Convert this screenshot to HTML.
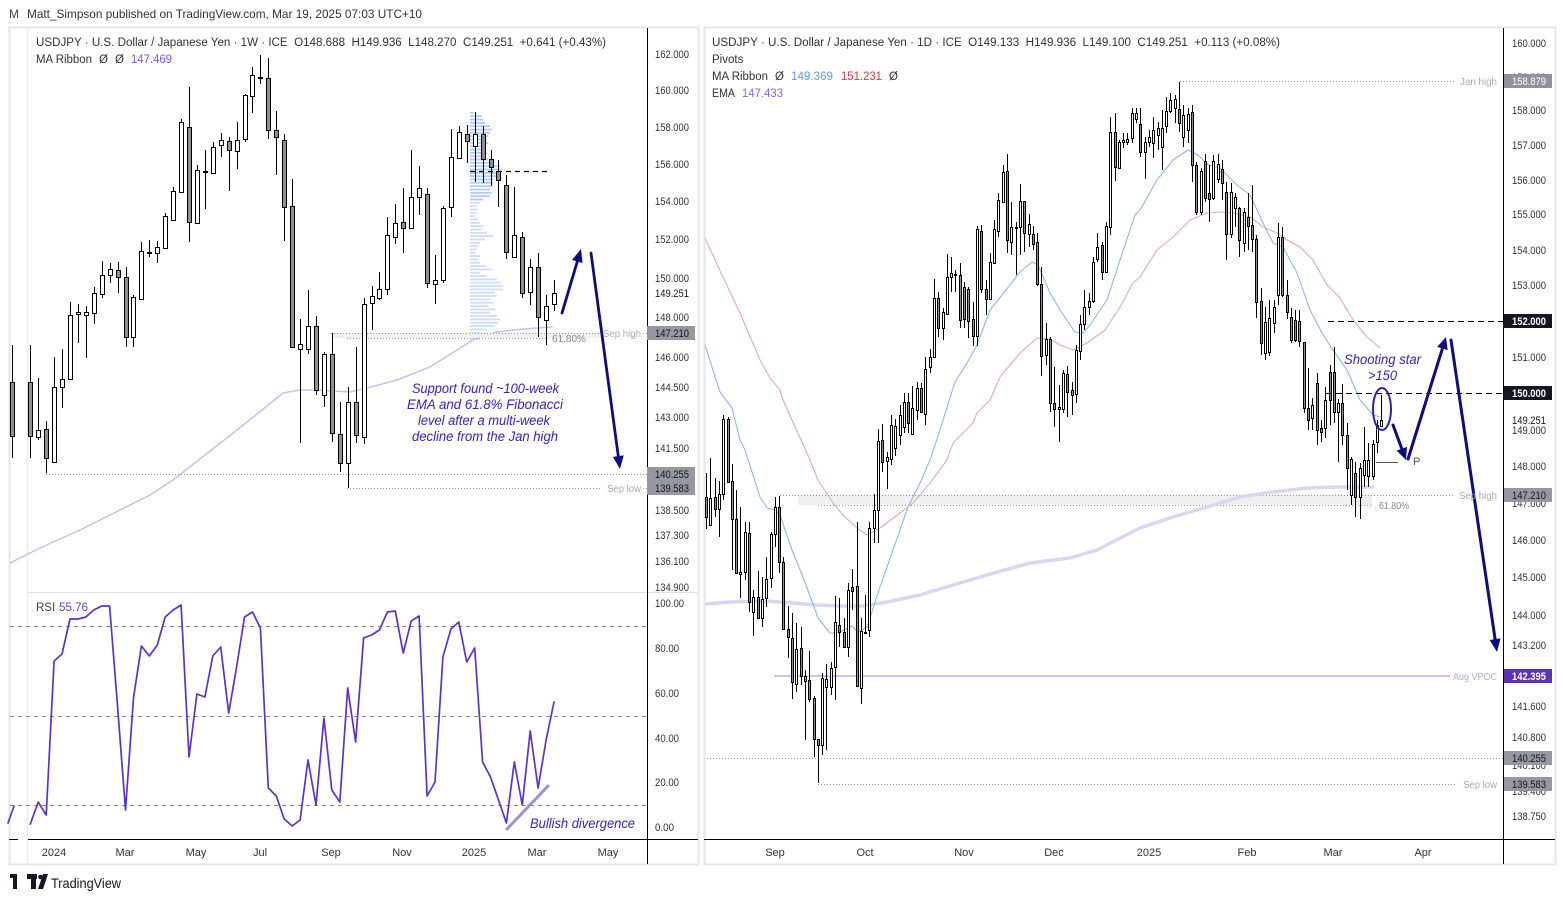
<!DOCTYPE html>
<html><head><meta charset="utf-8">
<style>
html,body{margin:0;padding:0;background:#fff;}
body{width:1565px;height:901px;overflow:hidden;}
svg{display:block;font-family:"Liberation Sans",Arial,sans-serif;}
.ax{font-size:11px;fill:#333;}
.tm{font-size:11px;fill:#333;text-anchor:middle;}
.lb{font-size:10.5px;fill:#a8abb3;}
.an{font-style:italic;fill:#3b22b8;}
.pre{white-space:pre;}
</style></head><body>
<svg id="s" width="1565" height="901" viewBox="0 0 1565 901" xmlns="http://www.w3.org/2000/svg">
<defs>
<clipPath id="cL"><rect x="10" y="28" width="637" height="564"/></clipPath>
<clipPath id="cR"><rect x="705" y="28" width="798" height="811"/></clipPath>
<clipPath id="cRSI"><rect x="28" y="593" width="619" height="246"/></clipPath>
</defs>
<rect width="1565" height="901" fill="#fff"/>

<!-- header -->
<text x="9" y="18" font-size="12" fill="#444">M</text>
<text x="27" y="18" font-size="12" fill="#333" textLength="395" lengthAdjust="spacingAndGlyphs">Matt_Simpson published on TradingView.com, Mar 19, 2025 07:03 UTC+10</text>

<!-- panel frames -->
<rect x="9.5" y="27.5" width="689" height="837" fill="none" stroke="#e6e6e6" stroke-width="2"/>
<line x1="27.5" y1="28" x2="27.5" y2="864" stroke="#ececec" stroke-width="1.5"/>
<rect x="704.5" y="27.5" width="851" height="837" fill="none" stroke="#e6e6e6" stroke-width="2"/>

<!-- ================= LEFT CHART ================= -->
<g id="Lbg" clip-path="url(#cL)"></g>
<g clip-path="url(#cL)">
<rect x="331" y="333" width="270" height="5" fill="#f0f0f0"/>
<line x1="331" y1="333.5" x2="600" y2="333.5" stroke="#9598a1" stroke-dasharray="1,2"/>
<line x1="347" y1="338.5" x2="548" y2="338.5" stroke="#9598a1" stroke-dasharray="1,2"/>
<line x1="46" y1="474.5" x2="647" y2="474.5" stroke="#9598a1" stroke-dasharray="1,2"/>
<line x1="347" y1="488.5" x2="600" y2="488.5" stroke="#9598a1" stroke-dasharray="1,2"/>
<line x1="643" y1="488.5" x2="647" y2="488.5" stroke="#9598a1" stroke-dasharray="1,2"/>
<line x1="643" y1="333.5" x2="647" y2="333.5" stroke="#9598a1" stroke-dasharray="1,2"/>
</g>
<g id="Lc" clip-path="url(#cL)"></g>
<line x1="470" y1="171.5" x2="549" y2="171.5" stroke="#000" stroke-width="1.2" stroke-dasharray="5,4"/>
<g id="Lov"></g>

<text x="552" y="342" font-size="10" fill="#888">61.80%</text>
<text x="603" y="337" class="lb" textLength="38" lengthAdjust="spacingAndGlyphs">Sep high</text>
<text x="607" y="492" class="lb" textLength="34" lengthAdjust="spacingAndGlyphs">Sep low</text>

<text x="412" y="393" font-size="13.5" class="an" textLength="147" lengthAdjust="spacingAndGlyphs">Support found ~100-week</text>
<text x="407" y="409" font-size="13.5" class="an" textLength="156" lengthAdjust="spacingAndGlyphs">EMA and 61.8% Fibonacci</text>
<text x="418" y="425" font-size="13.5" class="an" textLength="132" lengthAdjust="spacingAndGlyphs">level after a multi-week</text>
<text x="412" y="441" font-size="13.5" class="an" textLength="146" lengthAdjust="spacingAndGlyphs">decline from the Jan high</text>

<!-- left titles -->
<text x="36" y="46" font-size="11.5" fill="#333" class="pre" textLength="570" lengthAdjust="spacingAndGlyphs">USDJPY · U.S. Dollar / Japanese Yen · 1W · ICE  O148.688  H149.936  L148.270  C149.251  +0.641 (+0.43%)</text>
<text x="36" y="63" font-size="11.5" fill="#333" textLength="56" lengthAdjust="spacingAndGlyphs">MA Ribbon</text>
<text x="99" y="63" font-size="11.5" fill="#333">Ø</text>
<text x="115" y="63" font-size="11.5" fill="#333">Ø</text>
<text x="131" y="63" font-size="11.5" fill="#7e5bd6" textLength="41" lengthAdjust="spacingAndGlyphs">147.469</text>

<!-- RSI pane -->
<line x1="28" y1="592.5" x2="698" y2="592.5" stroke="#e0e0e0"/>
<line x1="10" y1="626.5" x2="647" y2="626.5" stroke="#8a8a8a" stroke-dasharray="4,4"/>
<line x1="10" y1="716.5" x2="647" y2="716.5" stroke="#8a8a8a" stroke-dasharray="4,4"/>
<line x1="10" y1="805.5" x2="647" y2="805.5" stroke="#8a8a8a" stroke-dasharray="4,4"/>
<g id="Lrsi"></g>
<line x1="507" y1="829" x2="548" y2="786" stroke="#9d8fe0" stroke-width="3" stroke-linecap="round"/>
<text x="530" y="828" font-size="13.5" class="an" textLength="105" lengthAdjust="spacingAndGlyphs">Bullish divergence</text>
<text x="36" y="611" font-size="11.5" fill="#444">RSI</text>
<text x="59" y="611" font-size="11.5" fill="#6a3fd0" textLength="29" lengthAdjust="spacingAndGlyphs">55.76</text>

<!-- left axes -->
<line x1="647.5" y1="28" x2="647.5" y2="864" stroke="#000"/>
<line x1="9" y1="839.5" x2="18" y2="839.5" stroke="#000"/>
<line x1="28" y1="839.5" x2="698" y2="839.5" stroke="#000"/>
<g class="ax">
<text x="655" y="58" textLength="34" lengthAdjust="spacingAndGlyphs">162.000</text>
<text x="655" y="94" textLength="34" lengthAdjust="spacingAndGlyphs">160.000</text>
<text x="655" y="131" textLength="34" lengthAdjust="spacingAndGlyphs">158.000</text>
<text x="655" y="168" textLength="34" lengthAdjust="spacingAndGlyphs">156.000</text>
<text x="655" y="205" textLength="34" lengthAdjust="spacingAndGlyphs">154.000</text>
<text x="655" y="243" textLength="34" lengthAdjust="spacingAndGlyphs">152.000</text>
<text x="655" y="282" textLength="34" lengthAdjust="spacingAndGlyphs">150.000</text>
<text x="655" y="297" textLength="34" lengthAdjust="spacingAndGlyphs" style="fill:#131722">149.251</text>
<text x="655" y="321" textLength="34" lengthAdjust="spacingAndGlyphs">148.000</text>
<text x="655" y="361" textLength="34" lengthAdjust="spacingAndGlyphs">146.000</text>
<text x="655" y="391" textLength="34" lengthAdjust="spacingAndGlyphs">144.500</text>
<text x="655" y="421" textLength="34" lengthAdjust="spacingAndGlyphs">143.000</text>
<text x="655" y="452" textLength="34" lengthAdjust="spacingAndGlyphs">141.500</text>
<text x="655" y="514" textLength="34" lengthAdjust="spacingAndGlyphs">138.500</text>
<text x="655" y="539" textLength="34" lengthAdjust="spacingAndGlyphs">137.300</text>
<text x="655" y="565" textLength="34" lengthAdjust="spacingAndGlyphs">136.100</text>
<text x="655" y="591" textLength="34" lengthAdjust="spacingAndGlyphs">134.900</text>
<text x="655" y="607" textLength="29" lengthAdjust="spacingAndGlyphs">100.00</text>
<text x="655" y="652" textLength="24" lengthAdjust="spacingAndGlyphs">80.00</text>
<text x="655" y="697" textLength="24" lengthAdjust="spacingAndGlyphs">60.00</text>
<text x="655" y="742" textLength="24" lengthAdjust="spacingAndGlyphs">40.00</text>
<text x="655" y="786" textLength="24" lengthAdjust="spacingAndGlyphs">20.00</text>
<text x="655" y="831" textLength="19" lengthAdjust="spacingAndGlyphs">0.00</text>
</g>
<rect x="647" y="326" width="48" height="14" fill="#9598a1"/>
<text x="655" y="337" font-size="11" style="fill:#131722" textLength="34" lengthAdjust="spacingAndGlyphs">147.210</text>
<rect x="647" y="467" width="48" height="14" fill="#9598a1"/>
<text x="655" y="478" font-size="11" style="fill:#131722" textLength="34" lengthAdjust="spacingAndGlyphs">140.255</text>
<rect x="647" y="481" width="48" height="14" fill="#9598a1"/>
<text x="655" y="492" font-size="11" style="fill:#131722" textLength="34" lengthAdjust="spacingAndGlyphs">139.583</text>

<g>
<text x="54" y="856" class="tm">2024</text>
<text x="125" y="856" class="tm">Mar</text>
<text x="196" y="856" class="tm">May</text>
<text x="260" y="856" class="tm">Jul</text>
<text x="331" y="856" class="tm">Sep</text>
<text x="402" y="856" class="tm">Nov</text>
<text x="474" y="856" class="tm">2025</text>
<text x="537" y="856" class="tm">Mar</text>
<text x="608" y="856" class="tm">May</text>
</g>

<!-- ================= RIGHT CHART ================= -->
<g clip-path="url(#cR)">
<rect x="798" y="495" width="574" height="10" fill="#f0f0f0"/>
<line x1="1180" y1="81.5" x2="1455" y2="81.5" stroke="#9598a1" stroke-dasharray="1,2"/>
<line x1="780" y1="495.5" x2="1455" y2="495.5" stroke="#9598a1" stroke-dasharray="1,2"/>
<line x1="818" y1="505.5" x2="1372" y2="505.5" stroke="#9598a1" stroke-dasharray="1,2"/>
<line x1="704" y1="758.5" x2="1503" y2="758.5" stroke="#9598a1" stroke-dasharray="1,2"/>
<line x1="818" y1="784.5" x2="1455" y2="784.5" stroke="#9598a1" stroke-dasharray="1,2"/>
<line x1="774" y1="676" x2="1450" y2="676" stroke="#cdc3ec" stroke-width="2"/>
</g>
<g id="Rbg" clip-path="url(#cR)"></g>
<g id="Rc" clip-path="url(#cR)"></g>
<line x1="1328" y1="321.5" x2="1503" y2="321.5" stroke="#000" stroke-dasharray="6,4"/>
<line x1="1326" y1="393.5" x2="1503" y2="393.5" stroke="#000" stroke-dasharray="6,4"/>
<line x1="1376" y1="462.5" x2="1398" y2="462.5" stroke="#555"/>
<text x="1413" y="465" font-size="11" fill="#555">P</text>
<ellipse cx="1382" cy="409" rx="9" ry="21" fill="none" stroke="#2b23a8" stroke-width="2"/>
<g id="Rov"></g>
<text x="1344" y="364" font-size="13.5" class="an" textLength="77" lengthAdjust="spacingAndGlyphs">Shooting star</text>
<text x="1368" y="380" font-size="13.5" class="an" textLength="29" lengthAdjust="spacingAndGlyphs">&gt;150</text>

<text x="1460" y="85" class="lb" textLength="37" lengthAdjust="spacingAndGlyphs">Jan high</text>
<text x="1459" y="499" class="lb" textLength="38" lengthAdjust="spacingAndGlyphs">Sep high</text>
<text x="1379" y="509" font-size="10" fill="#888" textLength="30" lengthAdjust="spacingAndGlyphs">61.80%</text>
<text x="1463" y="788" class="lb" textLength="34" lengthAdjust="spacingAndGlyphs">Sep low</text>
<text x="1453" y="680" font-size="10.5" fill="#b8a8e8" textLength="44" lengthAdjust="spacingAndGlyphs">Aug VPOC</text>

<!-- right titles -->
<text x="712" y="46" font-size="11.5" fill="#333" class="pre" textLength="568" lengthAdjust="spacingAndGlyphs">USDJPY · U.S. Dollar / Japanese Yen · 1D · ICE  O149.133  H149.936  L149.100  C149.251  +0.113 (+0.08%)</text>
<text x="712" y="63" font-size="11.5" fill="#333">Pivots</text>
<text x="712" y="80" font-size="11.5" fill="#333" textLength="56" lengthAdjust="spacingAndGlyphs">MA Ribbon</text>
<text x="775" y="80" font-size="11.5" fill="#333">Ø</text>
<text x="791" y="80" font-size="11.5" fill="#5b9cf6" textLength="42" lengthAdjust="spacingAndGlyphs">149.369</text>
<text x="841" y="80" font-size="11.5" fill="#d23a45" textLength="41" lengthAdjust="spacingAndGlyphs">151.231</text>
<text x="889" y="80" font-size="11.5" fill="#333">Ø</text>
<text x="712" y="97" font-size="11.5" fill="#333" textLength="23" lengthAdjust="spacingAndGlyphs">EMA</text>
<text x="742" y="97" font-size="11.5" fill="#8a6ad8" textLength="41" lengthAdjust="spacingAndGlyphs">147.433</text>

<!-- right axes -->
<line x1="1503.5" y1="28" x2="1503.5" y2="864" stroke="#000"/>
<line x1="704" y1="839.5" x2="1555" y2="839.5" stroke="#000"/>
<g class="ax">
<text x="1512" y="47" textLength="34" lengthAdjust="spacingAndGlyphs">160.000</text>
<text x="1512" y="81" textLength="34" lengthAdjust="spacingAndGlyphs">159.000</text>
<text x="1512" y="114" textLength="34" lengthAdjust="spacingAndGlyphs">158.000</text>
<text x="1512" y="149" textLength="34" lengthAdjust="spacingAndGlyphs">157.000</text>
<text x="1512" y="184" textLength="34" lengthAdjust="spacingAndGlyphs">156.000</text>
<text x="1512" y="218" textLength="34" lengthAdjust="spacingAndGlyphs">155.000</text>
<text x="1512" y="254" textLength="34" lengthAdjust="spacingAndGlyphs">154.000</text>
<text x="1512" y="289" textLength="34" lengthAdjust="spacingAndGlyphs">153.000</text>
<text x="1512" y="361" textLength="34" lengthAdjust="spacingAndGlyphs">151.000</text>
<text x="1512" y="434" textLength="34" lengthAdjust="spacingAndGlyphs">149.000</text>
<text x="1512" y="470" textLength="34" lengthAdjust="spacingAndGlyphs">148.000</text>
<text x="1512" y="507" textLength="34" lengthAdjust="spacingAndGlyphs">147.000</text>
<text x="1512" y="544" textLength="34" lengthAdjust="spacingAndGlyphs">146.000</text>
<text x="1512" y="581" textLength="34" lengthAdjust="spacingAndGlyphs">145.000</text>
<text x="1512" y="619" textLength="34" lengthAdjust="spacingAndGlyphs">144.000</text>
<text x="1512" y="649" textLength="34" lengthAdjust="spacingAndGlyphs">143.200</text>
<text x="1512" y="710" textLength="34" lengthAdjust="spacingAndGlyphs">141.600</text>
<text x="1512" y="741" textLength="34" lengthAdjust="spacingAndGlyphs">140.800</text>
<text x="1512" y="769" textLength="34" lengthAdjust="spacingAndGlyphs">140.100</text>
<text x="1512" y="795" textLength="34" lengthAdjust="spacingAndGlyphs">139.400</text>
<text x="1512" y="820" textLength="34" lengthAdjust="spacingAndGlyphs">138.750</text>
</g>
<rect x="1505" y="413" width="47" height="13" fill="#fff"/>
<text x="1512" y="424" font-size="11" style="fill:#131722" textLength="34" lengthAdjust="spacingAndGlyphs">149.251</text>
<rect x="1504" y="74" width="48" height="14" fill="#8f9299"/>
<text x="1512" y="85" font-size="11" style="fill:#fff" textLength="34" lengthAdjust="spacingAndGlyphs">158.879</text>
<rect x="1504" y="314" width="48" height="14" fill="#131722"/>
<text x="1512" y="325" font-size="11" style="fill:#fff" font-weight="bold" textLength="34" lengthAdjust="spacingAndGlyphs">152.000</text>
<rect x="1504" y="386" width="48" height="14" fill="#131722"/>
<text x="1512" y="397" font-size="11" style="fill:#fff" font-weight="bold" textLength="34" lengthAdjust="spacingAndGlyphs">150.000</text>
<rect x="1504" y="488" width="48" height="14" fill="#9598a1"/>
<text x="1512" y="499" font-size="11" style="fill:#131722" textLength="34" lengthAdjust="spacingAndGlyphs">147.210</text>
<rect x="1504" y="669" width="48" height="14" fill="#5b32b4"/>
<text x="1512" y="680" font-size="11" style="fill:#fff" font-weight="bold" textLength="34" lengthAdjust="spacingAndGlyphs">142.395</text>
<rect x="1504" y="751" width="48" height="14" fill="#9598a1"/>
<text x="1512" y="762" font-size="11" style="fill:#131722" textLength="34" lengthAdjust="spacingAndGlyphs">140.255</text>
<rect x="1504" y="777" width="48" height="14" fill="#9598a1"/>
<text x="1512" y="788" font-size="11" style="fill:#131722" textLength="34" lengthAdjust="spacingAndGlyphs">139.583</text>

<g>
<text x="775" y="856" class="tm">Sep</text>
<text x="865" y="856" class="tm">Oct</text>
<text x="964" y="856" class="tm">Nov</text>
<text x="1054" y="856" class="tm">Dec</text>
<text x="1149" y="856" class="tm">2025</text>
<text x="1247" y="856" class="tm">Feb</text>
<text x="1333" y="856" class="tm">Mar</text>
<text x="1423" y="856" class="tm">Apr</text>
</g>

<!-- footer -->
<polygon points="10,874 17,874 17,889 13,889 13,878 10,878" fill="#131722"/>
<rect x="27" y="874" width="10" height="5" fill="#131722"/>
<rect x="31" y="874" width="5" height="15" fill="#131722"/>
<circle cx="40.5" cy="877" r="2.3" fill="#131722"/>
<polygon points="43,874 48,874 43,889 38,889" fill="#131722"/>
<text x="51" y="888" font-size="14" fill="#131722" textLength="70" lengthAdjust="spacingAndGlyphs">TradingView</text>
</svg>

<script>
(function(){
const NS='http://www.w3.org/2000/svg';
function E(p,t,a){const e=document.createElementNS(NS,t);for(const k in a)e.setAttribute(k,a[k]);p.appendChild(e);return e;}
function poly(p,pts,stroke,w,op){E(p,'polyline',{points:pts.map(q=>q[0]+','+q[1]).join(' '),fill:'none',stroke:stroke,'stroke-width':w,'stroke-linejoin':'round','stroke-linecap':'round',opacity:op||1});}
function candle(p,x,d,w){const cx=Math.round(x)+0.5;const t=d[0],b=d[1],h=d[2],l=d[3],u=d[4];
 E(p,'line',{x1:cx,x2:cx,y1:h,y2:l,stroke:'#000','stroke-width':1});
 E(p,'rect',{x:cx-w/2,y:t+0.5,width:w,height:Math.max(b-t,1),fill:u?'#fff':'#8f9096',stroke:'#000','stroke-width':1});}
function arrow(p,x1,y1,x2,y2,col,w,hl,hw){const dx=x2-x1,dy=y2-y1,L=Math.hypot(dx,dy),ux=dx/L,uy=dy/L;const bx=x2-ux*hl,by=y2-uy*hl;
 E(p,'line',{x1:x1,y1:y1,x2:bx+ux*2,y2:by+uy*2,stroke:col,'stroke-width':w,'stroke-linecap':'round'});
 E(p,'polygon',{points:x2+','+y2+' '+(bx-uy*hw)+','+(by+ux*hw)+' '+(bx+uy*hw)+','+(by-ux*hw),fill:col});}

/* ---------- LEFT (weekly) ---------- */
const Lbg=document.getElementById('Lbg'),Lc=document.getElementById('Lc'),Lov=document.getElementById('Lov'),Lrsi=document.getElementById('Lrsi');
const vp=[10,35,40,45,60,65,60,55,50,55,45,40,50,45,55,70,90,95,85,80,70,70,65,60,65,60,40,30,20,25,20,15,25,30,40,35,50,70,45,30,25,20,15,30,25,30,50,65,30,50,80,95,100,100,75,80,60,70,55,75,60,80,90,85,75,50,30,15,10,5];
vp.forEach((v,i)=>{E(Lbg,'rect',{x:470,y:(112+i*3.33).toFixed(1),width:(v/3).toFixed(1),height:1.8,fill:i<27?'#b3c9f6':'#cfdcf9'});});
poly(Lbg,[[10,563],[40,548],[80,530],[120,510],[150,495],[173,480],[205,455],[237,430],[262,410],[283,393],[300,390],[317,390],[350,392],[363,389],[397,380],[430,367],[457,350],[473,340],[497,332],[523,329],[552,327]],'#c9bff0',1.5);
const W=[[382,436,345,458,0],[430,437,378,440,1],[429,458,421,473,0],[387,462,357,462,1],[379,387,349,408,1],[315,379,302,379,1],[312,314,304,343,1],[312,315,306,358,1],[293,313,287,324,1],[275,294,261,298,1],[269,275,263,283,1],[270,277,262,293,0],[277,337,267,347,0],[297,337,295,347,1],[251,299,242,299,1],[252,253,240,257,1],[247,253,241,263,1],[216,248,213,248,1],[191,220,187,220,1],[122,192,119,192,1],[127,222,87,242,0],[170,223,165,224,1],[171,172,150,209,1],[147,173,142,173,1],[140,145,133,157,1],[141,150,137,191,0],[140,151,122,169,1],[95,139,94,142,1],[75,96,67,113,1],[77,78,55,84,1],[78,130,58,139,0],[130,137,111,175,0],[140,207,134,241,0],[206,347,179,348,0],[344,349,319,443,1],[326,349,290,354,1],[326,390,316,395,0],[354,395,352,407,1],[354,433,333,442,0],[434,463,402,472,0],[402,463,387,488,1],[402,435,347,443,0],[304,437,298,444,1],[296,303,286,330,1],[289,298,272,300,1],[235,289,217,295,1],[223,237,204,244,1],[222,228,188,253,0],[197,228,150,228,1],[188,197,166,215,1],[194,283,188,288,0],[280,284,255,304,1],[208,280,206,283,1],[157,207,129,217,1],[132,158,126,158,1],[134,141,125,163,0],[134,146,112,182,1],[134,159,126,183,0],[159,167,150,186,0],[171,180,160,207,0],[185,252,175,259,0],[235,257,187,257,1],[237,293,232,298,0],[267,292,259,305,1],[267,317,253,337,0],[306,320,295,345,1],[293,304,280,311,1]];
candle(Lc,12.3,W[0],4);
W.forEach((d,i)=>candle(Lc,30.3+7.935*i,d,4));
arrow(Lov,562,313,581,249,'#0d0d7e',2.8,13,5.5);
arrow(Lov,591,253,620,469,'#0d0d7e',2.8,13,5.5);
const R=[824,802,815,661,654,619,619,617,610,606,606,707,810,698,646,656,645,617,610,605,757,694,697,656,647,713,667,617,612,628,788,796,819,826,820,760,805,718,790,802,688,742,638,635,630,612,611,653,621,616,796,782,657,629,622,662,648,762,777,800,823,762,805,731,788,740,702];
poly(Lrsi,[[8,823],[14,806]],'#5c33c4',1.7);
poly(Lrsi,R.map((y,i)=>[(30.3+7.935*i).toFixed(1),y]),'#5c33c4',1.7);

/* ---------- RIGHT (daily) ---------- */
const Rbg=document.getElementById('Rbg'),Rc=document.getElementById('Rc'),Rov=document.getElementById('Rov');
poly(Rbg,[[705,604],[730,602],[767,601],[793,603],[817,605],[840,606],[863,606],[887,602],[920,595],[953,585],[987,575],[1030,563],[1070,558],[1097,550],[1140,528],[1173,517],[1207,507],[1240,497],[1273,492],[1307,488],[1340,487],[1373,487]],'#dcd4f3',3.5);
poly(Rbg,[[705,345],[720,392],[732,408],[740,440],[745,450],[760,497],[767,508],[775,510],[780,515],[792,550],[803,577],[818,618],[830,633],[840,632],[852,626],[858,632],[867,627],[880,587],[893,550],[908,507],[920,483],[930,460],[940,430],[955,382],[967,363],[977,345],[990,310],[1002,295],[1020,272],[1032,262],[1038,265],[1050,293],[1062,313],[1075,332],[1083,333],[1090,325],[1107,300],[1120,260],[1135,215],[1140,210],[1157,180],[1173,160],[1188,150],[1198,155],[1208,165],[1220,168],[1237,185],[1250,195],[1263,223],[1273,243],[1283,247],[1297,273],[1310,310],[1322,333],[1333,350],[1347,370],[1360,400],[1373,415],[1380,417]],'#8ab8f7',1.1);
poly(Rbg,[[705,238],[722,275],[740,313],[760,360],[770,378],[780,390],[783,400],[810,460],[818,480],[833,503],[843,515],[857,528],[867,535],[880,528],[900,513],[913,503],[930,483],[947,460],[953,443],[973,423],[977,413],[990,400],[1000,377],[1020,353],[1037,338],[1050,339],[1060,345],[1073,350],[1087,343],[1105,330],[1120,307],[1133,283],[1140,277],[1157,250],[1173,237],[1190,220],[1207,213],[1220,212],[1233,213],[1250,217],[1263,227],[1277,233],[1287,240],[1300,247],[1313,260],[1327,285],[1340,298],[1353,320],[1367,337],[1380,348]],'#eaaaaa',1.1);
const D=[[497,517,473,529,0],[498,525,458,525,1],[497,509,478,517,0],[494,509,481,537,1],[419,494,415,500,1],[419,482,417,482,0],[481,519,464,570,0],[519,573,490,573,0],[572,574,507,598,1],[532,572,522,580,1],[533,602,522,612,0],[597,612,590,636,1],[597,618,571,618,0],[599,618,577,627,1],[579,598,557,607,1],[534,578,532,588,1],[507,534,497,547,1],[507,562,496,573,0],[562,629,557,629,0],[629,637,606,658,0],[638,682,613,699,0],[649,684,623,692,1],[648,676,627,685,0],[676,681,670,740,0],[680,699,651,702,0],[698,739,696,757,0],[739,745,739,783,0],[678,745,673,755,1],[679,687,664,750,1],[668,687,662,695,1],[622,667,596,700,1],[625,632,598,647,0],[632,647,618,648,0],[590,647,583,657,1],[587,591,569,610,0],[586,686,522,687,0],[631,688,618,704,1],[632,633,595,633,1],[528,630,522,637,1],[510,528,494,543,1],[441,510,429,543,1],[440,462,424,472,0],[457,461,452,489,1],[425,459,415,465,1],[426,448,419,456,1],[415,435,405,445,1],[402,427,393,433,1],[402,423,393,433,0],[408,434,386,434,1],[388,410,382,420,1],[388,412,383,413,0],[369,414,357,425,1],[357,367,349,373,1],[298,357,279,357,1],[298,328,292,337,0],[312,328,308,340,1],[277,314,254,314,1],[273,277,257,292,1],[274,275,270,292,1],[275,320,263,328,0],[287,319,282,328,0],[289,321,287,338,0],[319,336,302,346,0],[229,336,226,346,1],[231,289,225,293,0],[289,299,280,315,0],[262,299,253,299,1],[229,263,220,263,1],[200,231,193,237,1],[172,202,165,202,1],[171,240,154,253,0],[227,242,202,255,1],[227,228,222,275,1],[201,227,184,255,1],[201,233,201,252,0],[224,234,214,247,1],[234,244,226,250,0],[242,284,233,286,0],[284,356,267,376,0],[339,355,323,365,1],[339,403,337,412,0],[403,409,367,427,0],[407,409,385,442,1],[373,409,370,413,1],[374,392,366,417,0],[390,395,382,415,0],[350,394,345,403,1],[324,351,315,360,1],[307,324,290,330,1],[301,307,293,315,1],[262,301,257,303,1],[247,259,233,262,1],[245,272,242,280,0],[226,272,222,273,1],[132,227,117,235,1],[132,167,113,181,0],[142,168,140,168,1],[140,142,133,148,1],[139,142,133,145,1],[113,138,108,143,1],[113,119,108,123,1],[124,152,108,157,0],[142,152,137,179,1],[137,142,130,147,1],[130,143,117,158,1],[128,135,122,150,1],[128,147,110,170,1],[111,126,97,133,1],[100,111,93,113,1],[99,108,95,123,1],[109,123,82,132,0],[115,137,105,147,1],[114,130,108,143,1],[112,165,105,182,0],[165,212,162,215,0],[171,212,168,215,1],[161,198,154,202,0],[193,199,165,222,0],[161,198,155,200,1],[164,179,154,183,1],[169,183,160,200,0],[192,234,182,260,0],[192,234,183,238,1],[197,208,193,227,1],[208,240,207,257,0],[212,243,208,252,1],[217,226,193,250,0],[225,239,185,252,0],[239,302,235,318,0],[301,343,288,355,0],[322,353,307,360,1],[318,352,300,356,1],[307,323,300,333,1],[237,295,223,305,1],[237,295,227,297,0],[295,312,280,319,0],[317,340,308,343,0],[320,340,310,342,0],[321,341,310,347,0],[342,408,342,413,0],[408,420,368,430,0],[405,418,398,430,1],[383,430,373,445,0],[428,432,420,442,0],[400,428,387,438,1],[372,400,365,425,0],[372,412,347,423,0],[403,412,399,462,1],[403,435,384,445,0],[435,468,423,490,0],[459,495,457,505,1],[473,497,462,517,0],[468,497,463,519,1],[460,475,427,487,1],[460,476,443,487,1],[444,476,440,480,1],[425,442,420,453,1],[420,426,395,427,1]];
D.forEach((d,i)=>candle(Rc,706+4.3*i,d,2));
arrow(Rov,1393,425,1406,460,'#0d0d7e',3,12,5.5);
arrow(Rov,1408,459,1446,337,'#0d0d7e',3,12,5.5);
arrow(Rov,1451,340,1497,652,'#0d0d7e',3,13,5.5);
})();
</script>
</body></html>
